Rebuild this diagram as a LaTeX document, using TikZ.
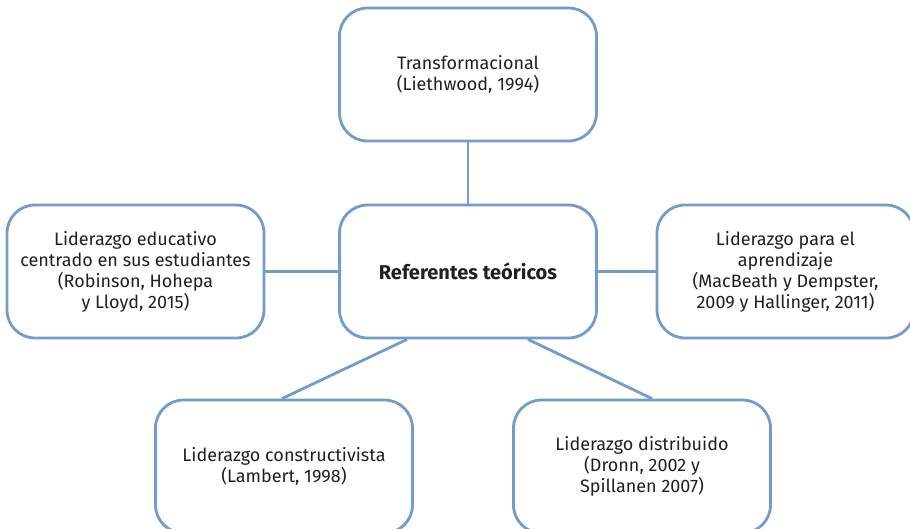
\documentclass[tikz,border=0pt]{standalone}
\usepackage{fontspec}
\setmainfont{Fira Sans}
\definecolor{boxblue}{RGB}{114,156,204}
\definecolor{txt}{RGB}{35,31,32}
\begin{document}
\begin{tikzpicture}[x=1pt,y=-1pt,
  box/.style={draw=boxblue, line width=2.8pt, rounded corners=28pt, fill=white,
    minimum width=257pt, minimum height=133pt, align=center, text=txt,
    font=\fontsize{18}{21}\selectfont, inner sep=0pt},
  link/.style={draw=boxblue, line width=2.8pt}]
\useasboundingbox (0,0) rectangle (910,528);
\node[box] (top) at (468,74.5) {Transformacional\\(Liethwood, 1994)};
\node[box, font=\fontsize{20}{22}\selectfont\bfseries] (center) at (468,271.5) {Referentes teóricos};
\node[box] (left) at (135.5,271.5) {Liderazgo educativo\\centrado en sus estudiantes\\(Robinson, Hohepa\\y Lloyd, 2015)};
\node[box] (right) at (785.5,271.5) {Liderazgo para el\\aprendizaje\\(MacBeath y Dempster,\\2009 y Hallinger, 2011)};
\node[box] (bl) at (284,466.5) {Liderazgo constructivista\\(Lambert, 1998)};
\node[box] (br) at (642,466.5) {Liderazgo distribuido\\(Dronn, 2002 y\\Spillanen 2007)};
\draw[link] (top.south) -- (center.north);
\draw[link] (left.east) -- (center.west);
\draw[link] (center.east) -- (right.west);
\draw[link] ([xshift=-61pt]center.south) -- ([xshift=-2pt]bl.north);
\draw[link] ([xshift=60pt]center.south) -- ([xshift=10pt]br.north);
\end{tikzpicture}
\end{document}
